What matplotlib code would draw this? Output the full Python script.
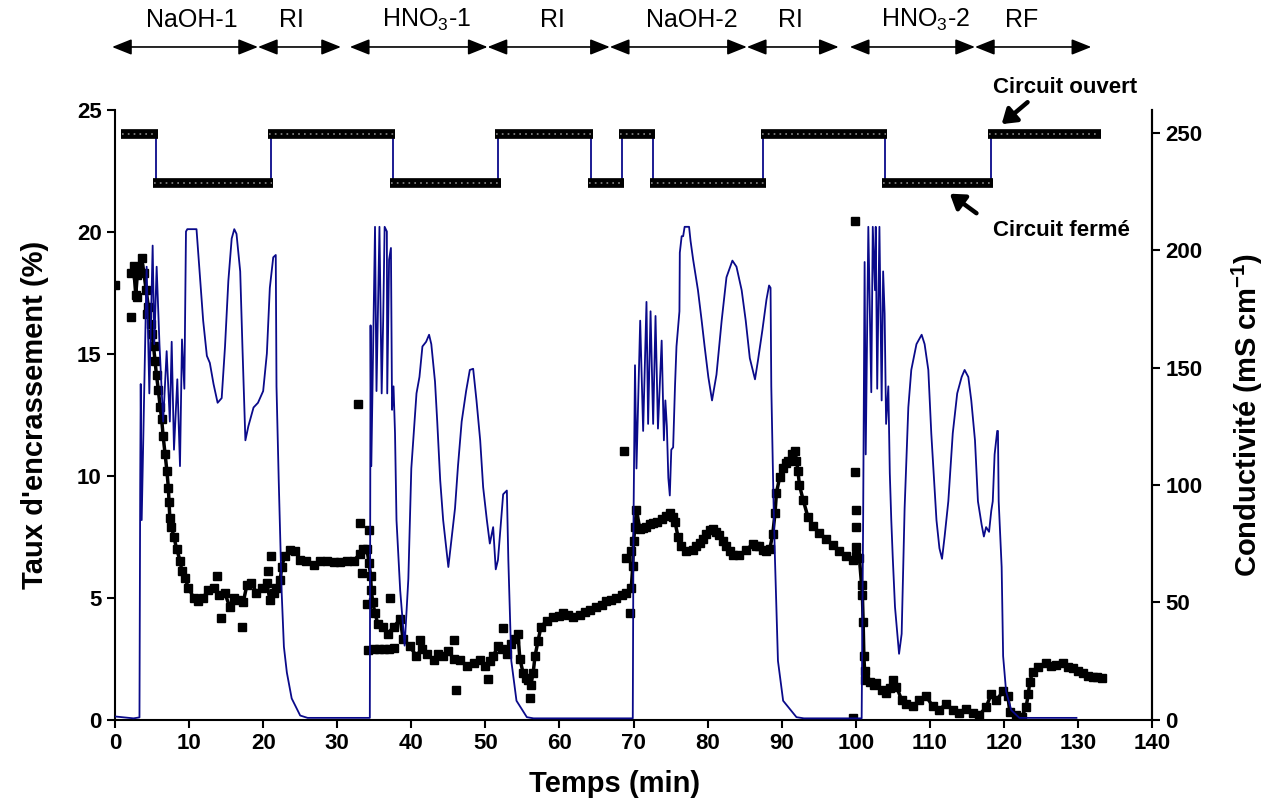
import matplotlib
matplotlib.use("Agg")
import matplotlib.pyplot as plt

plt.rcParams["font.family"] = ["Liberation Sans", "DejaVu Sans"]
plt.rcParams["mathtext.default"] = "regular"

# fouling rate (%) - main trend
foul_t = [2.2, 2.5, 2.8, 3.0, 3.3, 3.6, 3.9, 4.2, 4.5, 4.8, 5.0, 5.2, 5.4, 5.6, 5.85, 6.1, 6.3, 6.5, 6.75, 7.0,
          7.2, 7.3, 7.4, 7.6, 7.95, 8.3, 8.8, 9.0, 9.45, 9.9, 10.6, 11.25, 11.9, 12.6, 13.3, 14.0, 14.8, 15.5, 16.0, 16.6,
          17.3, 17.8, 18.4, 19.1, 19.8, 20.5, 20.9, 21.4, 21.8, 22.3, 22.5, 22.9, 23.6, 24.3, 25.0, 25.8, 26.8, 27.7, 28.6, 29.5,
          30.4, 31.3, 32.2, 33.1, 33.5, 34.0, 34.3, 34.5, 34.6, 34.8, 35.1, 35.5, 36.2, 36.8, 37.6, 38.5, 38.9, 39.8, 40.7, 41.4,
          42.1, 43.0, 43.6, 44.3, 45.0, 45.7, 46.6, 47.5, 48.4, 49.3, 49.9, 50.6, 51.05, 51.7, 52.2, 52.9, 53.5, 54.0, 54.4, 54.65,
          55.1, 55.5, 55.8, 56.1, 56.45, 56.7, 57.1, 57.5, 58.3, 59.15, 60.0, 60.5, 61.2, 61.85, 62.75, 63.4, 64.1, 65.0, 65.7, 66.35,
          67.0, 67.7, 68.4, 69.05, 69.7, 69.9, 70.0, 70.2, 70.4, 70.85, 71.3, 71.75, 72.2, 72.6, 73.2, 73.8, 74.4, 74.9, 75.3, 75.6,
          76.0, 76.4, 77.15, 78.05, 78.5, 78.95, 79.4, 79.85, 80.3, 80.7, 81.2, 81.6, 82.1, 82.55, 83.0, 83.4, 84.3, 85.25, 86.1, 86.6,
          87.0, 87.5, 87.95, 88.4, 88.8, 89.1, 89.3, 89.75, 90.2, 90.6, 90.9, 91.4, 91.8, 92.0, 92.2, 92.4, 92.9, 93.55, 94.2, 95.1,
          96.0, 96.9, 97.8, 98.75, 99.6, 100.1, 100.5, 100.8, 100.9, 101.0, 101.1, 101.2, 101.3, 101.9, 102.4, 102.8, 103.5, 104.1, 104.6, 105.0,
          105.5, 106.2, 106.8, 107.7, 108.6, 109.5, 110.4, 111.3, 112.2, 113.1, 114.0, 114.9, 115.8, 116.7, 117.6, 118.3, 119.0, 119.9, 120.55, 120.8,
          121.7, 122.4, 123.0, 123.3, 123.5, 123.9, 124.6, 125.7, 126.4, 127.1, 128.0, 128.6, 129.3, 130.0, 130.7, 131.3, 132.0, 132.6, 133.2]
foul_v = [18.3, 18.6, 17.4, 18.2, 18.5, 18.9, 18.3, 17.6, 16.9, 16.2, 15.8, 15.3, 14.7, 14.1, 13.5, 12.8, 12.3, 11.6, 10.9, 10.2,
          9.5, 8.9, 8.25, 7.9, 7.5, 7.0, 6.5, 6.1, 5.8, 5.4, 5.0, 4.85, 5.0, 5.3, 5.4, 5.1, 5.2, 4.6, 5.0, 4.9,
          4.8, 5.5, 5.6, 5.2, 5.4, 5.6, 4.9, 5.2, 5.4, 5.7, 6.25, 6.7, 6.95, 6.9, 6.55, 6.5, 6.35, 6.5, 6.5, 6.45,
          6.45, 6.5, 6.5, 6.8, 7.0, 7.0, 6.4, 5.9, 5.3, 4.8, 4.35, 3.9, 3.8, 3.5, 3.8, 4.1, 3.3, 3.0, 2.6, 2.9,
          2.7, 2.45, 2.7, 2.6, 2.8, 2.5, 2.45, 2.2, 2.3, 2.45, 2.2, 2.4, 2.6, 3.0, 2.9, 2.7, 3.1, 3.3, 3.5, 2.5,
          1.9, 1.7, 1.6, 1.4, 1.9, 2.6, 3.2, 3.8, 4.05, 4.2, 4.25, 4.35, 4.3, 4.2, 4.3, 4.4, 4.5, 4.6, 4.7, 4.85,
          4.9, 5.0, 5.1, 5.2, 5.4, 6.3, 7.3, 7.9, 8.6, 7.8, 7.85, 7.9, 8.0, 8.05, 8.1, 8.2, 8.35, 8.45, 8.3, 8.1,
          7.5, 7.1, 6.9, 6.95, 7.1, 7.25, 7.4, 7.6, 7.75, 7.8, 7.7, 7.55, 7.3, 7.1, 6.9, 6.75, 6.75, 6.95, 7.2, 7.1,
          7.1, 6.95, 6.9, 7.0, 7.6, 8.45, 9.3, 9.95, 10.3, 10.5, 10.6, 10.9, 11.0, 10.6, 10.2, 9.6, 9.0, 8.3, 7.95, 7.65,
          7.4, 7.15, 6.9, 6.7, 6.55, 6.7, 6.6, 5.5, 5.1, 4.0, 2.6, 2.0, 1.6, 1.55, 1.4, 1.5, 1.2, 1.1, 1.3, 1.6,
          1.35, 0.8, 0.65, 0.55, 0.8, 0.95, 0.55, 0.4, 0.65, 0.4, 0.25, 0.45, 0.25, 0.2, 0.5, 1.05, 0.8, 1.15, 0.95, 0.3,
          0.2, 0.1, 0.5, 1.05, 1.55, 1.95, 2.15, 2.3, 2.2, 2.25, 2.3, 2.15, 2.1, 2.0, 1.9, 1.8, 1.75, 1.75, 1.7]

# isolated fouling points
out_t = [0.0, 2.1, 2.9, 4.3, 13.7, 14.3, 17.1, 20.7, 21.1, 32.8, 33.1, 34.3, 33.3, 34.0, 34.2, 35.0, 35.6, 36.3, 37.0,
         37.6, 37.1, 41.2, 45.7, 46.1, 50.4, 52.4, 56.0, 68.7, 69.05, 69.7, 69.5, 99.9, 99.9, 100.0, 100.1, 100.1, 99.6]
out_v = [17.8, 16.5, 17.3, 16.6, 5.9, 4.15, 3.8, 6.1, 6.7, 12.95, 8.05, 7.75, 6.0, 4.75, 2.85, 2.9, 2.9, 2.9, 2.9,
         2.95, 5.0, 3.25, 3.25, 1.2, 1.65, 3.75, 0.9, 11.0, 6.6, 6.9, 4.35, 20.45, 10.15, 8.6, 7.9, 7.05, 0.05]

# conductivity (mS/cm)
cond_t = [0.0, 2.5, 3.3, 3.4, 3.47, 3.6, 4.27, 4.63, 5.08, 5.3, 5.62, 6.0, 6.5, 6.97, 7.4, 7.65, 7.96, 8.41, 8.77, 9.04,
          9.36, 9.58, 9.76, 11.0, 11.25, 11.5, 11.9, 12.4, 12.8, 13.3, 13.85, 14.4, 14.85, 15.3, 15.75, 16.1, 16.4, 16.9, 17.2, 17.6,
          18.0, 18.7, 19.3, 20.0, 20.5, 20.9, 21.36, 21.7, 21.8, 22.1, 22.5, 22.8, 23.2, 23.85, 25.0, 26.0, 34.2,
          34.4, 34.5, 34.6, 34.9, 35.1, 35.3, 35.7, 36.0, 36.2, 36.4, 36.7, 36.75, 37.0, 37.25, 37.4, 37.6, 37.8, 38.0, 38.5, 39.1,
          39.6, 40.0, 40.7, 41.1, 41.5, 42.0, 42.4, 42.7, 43.2, 43.5, 43.9, 44.3, 45.0, 45.9, 46.3, 46.8, 47.4, 47.9, 48.35, 48.8,
          49.3, 49.7, 50.2, 50.6, 51.05, 51.4, 51.7, 52.4, 52.9, 53.1, 53.5, 54.2, 55.6, 56.5, 69.9,
          70.0, 70.2, 70.4, 70.9, 71.3, 71.75, 71.97, 72.3, 72.65, 72.97, 73.3, 73.8, 74.1, 74.3, 74.5, 74.7, 74.9, 75.1, 75.35, 75.6,
          75.8, 76.2, 76.25, 76.5, 76.7, 76.9, 77.5, 77.7, 78.05, 78.7, 79.2, 79.6, 80.1, 80.6, 81.2, 81.9, 82.55, 83.35, 83.9, 84.6,
          85.15, 85.7, 86.4, 86.8, 87.4, 87.95, 88.3, 88.5, 88.6, 88.9, 89.1, 89.5, 90.2, 92.0, 93.0, 100.8,
          101.0, 101.2, 101.35, 101.7, 102.1, 102.3, 102.6, 102.7, 102.9, 103.1, 103.2, 103.5, 103.7, 103.9, 104.1, 104.4, 104.6, 104.8, 105.0, 105.3,
          105.85, 106.2, 106.6, 107.1, 107.5, 108.2, 108.9, 109.3, 109.8, 110.2, 110.9, 111.3, 111.65, 112.0, 112.5, 113.1, 113.7, 114.3, 114.7, 115.2,
          115.6, 116.1, 116.5, 117.0, 117.3, 117.6, 118.0, 118.3, 118.5, 118.75, 119.1, 119.2, 119.3, 119.7, 119.9, 120.3, 121.0, 122.1, 129.8]
cond_v = [1.3, 0.5, 0.9, 100, 143, 85, 193, 139, 202, 160, 193, 160, 127, 157, 127, 161, 115, 145, 108, 162,
          141, 208, 209, 209, 198, 187, 170, 155, 152, 143, 135, 137, 159, 187, 205, 209, 207, 191, 159, 119,
          125, 133, 135, 140, 156, 184, 197, 198, 142, 102, 54, 31, 20, 9, 1.7, 0.7, 0.7,
          0.7, 168, 108, 170, 210, 140, 210, 139, 170, 210, 208, 139, 196, 201, 132, 142, 122, 85, 55, 31.5,
          60, 107, 139, 146, 159, 161, 164, 160, 144, 127, 102, 85, 65, 90, 108, 127, 140, 149, 149.5, 136,
          119, 99, 85, 75, 82, 64, 68, 96, 97.6, 68, 25, 8, 1, 0.5, 0.5,
          85, 151, 107, 170, 123, 178, 126, 174, 126, 172, 124, 161.5, 119, 136, 125, 103, 95.5, 115, 116, 142,
          159, 174, 199, 206, 206, 210, 210, 204, 196, 183, 170, 159, 146, 136, 147, 170, 188.5, 195.6, 193, 183,
          170, 154, 145, 153, 166, 179, 185, 184, 142, 93, 68, 25, 8, 1, 0.5, 0.5,
          85, 195, 113, 210, 139.5, 210, 183, 210, 141, 187, 210, 136, 191, 173, 126, 142, 105, 85, 69, 48,
          28, 36.5, 90, 133, 149, 160, 164, 160, 149, 122, 85, 73, 68.5, 78, 93, 122, 139, 146, 149, 146,
          136, 119, 93, 83, 78, 82, 80, 89, 93, 113, 123, 123, 93, 65, 27, 12, 4, 0.7, 0.7]

# circuit state: 24 = open, 22 = closed
state_t = [1.1, 5.5, 21.0, 37.5, 51.7, 64.2, 68.4, 72.6, 87.5, 103.9, 118.2, 132.7]
state_v = [24, 22, 24, 22, 24, 22, 24, 22, 24, 22, 24]

# cleaning phases on top
phase_names = ["NaOH-1", "RI", "HNO$_3$-1", "RI", "NaOH-2", "RI", "HNO$_3$-2", "RF"]
phase_start = [-0.4, 19.3, 31.7, 50.3, 66.8, 85.3, 99.2, 116.1]
phase_end = [19.3, 30.5, 50.3, 66.8, 85.3, 97.7, 116.1, 131.8]
phase_label_t = [10.4, 23.8, 42.1, 59.0, 77.9, 91.2, 109.4, 122.4]

navy = "#0a0a8a"

fig = plt.figure(figsize=(12.64, 8.07), dpi=100)
ax = fig.add_axes([0.0910, 0.1084, 0.8204, 0.7559])
ax2 = ax.twinx()

# fouling
ax.plot(foul_t, foul_v, color="black", lw=2.5, marker="s", ms=5.5, zorder=3)
ax.plot(out_t, out_v, ls="none", color="black", marker="s", ms=5.5, zorder=3)

# circuit state
ax.step(state_t, state_v + [state_v[-1]], where="post", color=navy, lw=1.3, zorder=2)
for i, v in enumerate(state_v):
    ax.hlines(v, state_t[i] - 0.35, state_t[i + 1] + 0.35, color="black", lw=7, zorder=4)
    ax.hlines(v, state_t[i] - 0.2, state_t[i + 1] + 0.2, color="#8a8a8a", lw=1.2,
              linestyles=(0, (1, 2.5)), zorder=5)

# conductivity
ax2.plot(cond_t, cond_v, color=navy, lw=1.3)

ax.set_xlim(0, 140)
ax.set_ylim(0, 25)
ax2.set_ylim(0, 260)
ax.set_xticks(range(0, 141, 10))
ax.set_yticks(range(0, 26, 5))
ax2.set_yticks(range(0, 251, 50))

for a in (ax, ax2):
    a.spines["top"].set_visible(False)
    for s in ("left", "right", "bottom"):
        a.spines[s].set_linewidth(1.5)
    a.tick_params(direction="out", length=6, width=1.5, labelsize=16)
    for lab in a.get_xticklabels() + a.get_yticklabels():
        lab.set_fontweight("bold")
ax2.spines["left"].set_visible(False)
ax2.spines["bottom"].set_visible(False)

ax.set_xlabel("Temps (min)", fontsize=21, fontweight="bold")
ax.xaxis.set_label_coords(0.482, -0.083)
ax.set_ylabel("Taux d'encrassement (%)", fontsize=21, fontweight="bold", labelpad=20)
ax2.set_ylabel("Conductivité (mS cm$^{-1}$)", fontsize=21, fontweight="bold", labelpad=20)

# phase arrows
for name, t0, t1, tl in zip(phase_names, phase_start, phase_end, phase_label_t):
    ax.annotate("", xy=(t1, 1.1025), xytext=(t0, 1.1025), xycoords=("data", "axes fraction"),
                textcoords=("data", "axes fraction"),
                arrowprops=dict(arrowstyle="<|-|>,head_length=0.75,head_width=0.3", color="black",
                                lw=1.2, shrinkA=0, shrinkB=0, mutation_scale=16), annotation_clip=False)
    ax.text(tl, 1.147, name, transform=ax.get_xaxis_transform(), ha="center", va="center", fontsize=18)

arrow_style = dict(arrowstyle="-|>,head_length=0.6,head_width=0.4", color="black", lw=3.2,
                   shrinkA=0, shrinkB=0, mutation_scale=14)
ax.text(128.2, 25.9, "Circuit ouvert", ha="center", va="center", fontsize=16, fontweight="bold")
ax.annotate("", xy=(119.7, 24.4), xytext=(123.2, 25.3), arrowprops=arrow_style, annotation_clip=False)
ax.text(127.8, 20.05, "Circuit fermé", ha="center", va="center", fontsize=16, fontweight="bold")
ax.annotate("", xy=(112.7, 21.55), xytext=(116.3, 20.75), arrowprops=arrow_style)

plt.savefig("out.png", dpi=100)
plt.close()
